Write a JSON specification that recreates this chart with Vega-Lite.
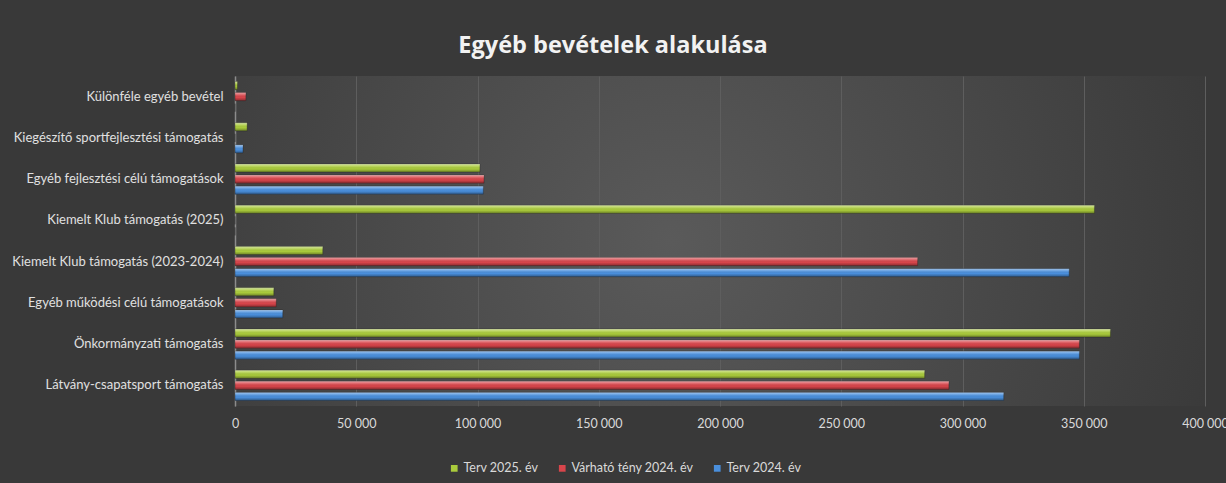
{
  "$schema": "https://vega.github.io/schema/vega-lite/v6.json",
  "width": 970,
  "height": 330,
  "autosize": {"type": "none"},
  "padding": {"left": 235, "top": 76, "right": 21, "bottom": 77},
  "background": "#393939",
  "title": {
    "text": "Egyéb bevételek alakulása",
    "font": "Open Sans",
    "fontSize": 23.5,
    "fontWeight": "bold",
    "color": "#f2f2f2",
    "anchor": "middle",
    "dx": -107,
    "offset": 19
  },
  "config": {
    "locale": {"number": {"decimal": ",", "thousands": " ", "grouping": [3], "currency": ["", ""]}},
    "view": {
      "stroke": null,
      "fill": {
        "gradient": "radial",
        "x1": 0.45, "y1": 0.5, "r1": 0,
        "x2": 0.45, "y2": 0.5, "r2": 0.6,
        "stops": [
          {"offset": 0, "color": "#5a5a5a"},
          {"offset": 1, "color": "#393939"}
        ]
      }
    },
    "font": "Lato"
  },
  "data": {
    "values": [
      {"kategoria": "Különféle egyéb bevétel", "sorozat": "Terv 2025. év", "ertek": 1000},
      {"kategoria": "Különféle egyéb bevétel", "sorozat": "Várható tény 2024. év", "ertek": 4500},
      {"kategoria": "Különféle egyéb bevétel", "sorozat": "Terv 2024. év", "ertek": 0},
      {"kategoria": "Kiegészítő sportfejlesztési támogatás", "sorozat": "Terv 2025. év", "ertek": 5000},
      {"kategoria": "Kiegészítő sportfejlesztési támogatás", "sorozat": "Várható tény 2024. év", "ertek": 0},
      {"kategoria": "Kiegészítő sportfejlesztési támogatás", "sorozat": "Terv 2024. év", "ertek": 3300},
      {"kategoria": "Egyéb fejlesztési célú támogatások", "sorozat": "Terv 2025. év", "ertek": 101000},
      {"kategoria": "Egyéb fejlesztési célú támogatások", "sorozat": "Várható tény 2024. év", "ertek": 102700},
      {"kategoria": "Egyéb fejlesztési célú támogatások", "sorozat": "Terv 2024. év", "ertek": 102400},
      {"kategoria": "Kiemelt Klub támogatás (2025)", "sorozat": "Terv 2025. év", "ertek": 354400},
      {"kategoria": "Kiemelt Klub támogatás (2025)", "sorozat": "Várható tény 2024. év", "ertek": 0},
      {"kategoria": "Kiemelt Klub támogatás (2025)", "sorozat": "Terv 2024. év", "ertek": 0},
      {"kategoria": "Kiemelt Klub támogatás (2023-2024)", "sorozat": "Terv 2025. év", "ertek": 36200},
      {"kategoria": "Kiemelt Klub támogatás (2023-2024)", "sorozat": "Várható tény 2024. év", "ertek": 281500},
      {"kategoria": "Kiemelt Klub támogatás (2023-2024)", "sorozat": "Terv 2024. év", "ertek": 344000},
      {"kategoria": "Egyéb működési célú támogatások", "sorozat": "Terv 2025. év", "ertek": 16000},
      {"kategoria": "Egyéb működési célú támogatások", "sorozat": "Várható tény 2024. év", "ertek": 17000},
      {"kategoria": "Egyéb működési célú támogatások", "sorozat": "Terv 2024. év", "ertek": 19700},
      {"kategoria": "Önkormányzati támogatás", "sorozat": "Terv 2025. év", "ertek": 361000},
      {"kategoria": "Önkormányzati támogatás", "sorozat": "Várható tény 2024. év", "ertek": 348200},
      {"kategoria": "Önkormányzati támogatás", "sorozat": "Terv 2024. év", "ertek": 348200},
      {"kategoria": "Látvány-csapatsport támogatás", "sorozat": "Terv 2025. év", "ertek": 284400},
      {"kategoria": "Látvány-csapatsport támogatás", "sorozat": "Várható tény 2024. év", "ertek": 294400},
      {"kategoria": "Látvány-csapatsport támogatás", "sorozat": "Terv 2024. év", "ertek": 317000}
    ]
  },
  "encoding": {
    "y": {
      "field": "kategoria",
      "type": "nominal",
      "sort": ["Különféle egyéb bevétel", "Kiegészítő sportfejlesztési támogatás", "Egyéb fejlesztési célú támogatások", "Kiemelt Klub támogatás (2025)", "Kiemelt Klub támogatás (2023-2024)", "Egyéb működési célú támogatások", "Önkormányzati támogatás", "Látvány-csapatsport támogatás"],
      "scale": {"paddingInner": 0.27, "paddingOuter": 0.135},
      "axis": {
        "title": null,
        "ticks": false,
        "domain": true,
        "domainColor": "#8c8c8c",
        "domainWidth": 1.5,
        "labelColor": "#e0e0e0",
        "labelFontSize": 13,
        "labelPadding": 12,
        "labelLimit": 300,
        "grid": false
      }
    },
    "yOffset": {
      "field": "sorozat",
      "type": "nominal",
      "sort": ["Terv 2025. év", "Várható tény 2024. év", "Terv 2024. év"],
      "scale": {"paddingInner": 0.27}
    },
    "x": {
      "field": "ertek",
      "type": "quantitative",
      "scale": {"domain": [0, 400000], "nice": false},
      "axis": {
        "title": null,
        "values": [0, 50000, 100000, 150000, 200000, 250000, 300000, 350000, 400000],
        "format": ",d",
        "domain": false,
        "ticks": false,
        "grid": true,
        "gridColor": "#5e5e5e",
        "gridWidth": 1,
        "labelColor": "#d9d9d9",
        "labelFontSize": 12.5,
        "labelPadding": 11,
        "labelFlush": false
      }
    }
  },
  "layer": [
    {
      "mark": {"type": "bar", "stroke": "#202020", "strokeWidth": 0.6, "strokeOpacity": 0.6},
      "encoding": {
        "color": {
          "field": "sorozat",
          "type": "nominal",
          "sort": ["Terv 2025. év", "Várható tény 2024. év", "Terv 2024. év"],
          "scale": {
            "domain": ["Terv 2025. év", "Várható tény 2024. év", "Terv 2024. év"],
            "range": ["#aacb3c", "#d8454b", "#4a8fdc"]
          },
          "legend": {
            "title": null,
            "orient": "none",
            "direction": "horizontal",
            "legendX": 213,
            "legendY": 386,
            "symbolType": "square",
            "symbolSize": 45,
            "symbolStrokeWidth": 0,
            "labelColor": "#d9d9d9",
            "labelFontSize": 12.5,
            "labelOffset": 3,
            "columnPadding": 17
          }
        }
      }
    },
    {
      "mark": {
        "type": "bar",
        "fill": {
          "gradient": "linear",
          "x1": 0, "y1": 0, "x2": 0, "y2": 1,
          "stops": [
            {"offset": 0, "color": "rgba(255,255,255,0.5)"},
            {"offset": 0.3, "color": "rgba(255,255,255,0.15)"},
            {"offset": 0.6, "color": "rgba(0,0,0,0)"},
            {"offset": 1, "color": "rgba(0,0,0,0.35)"}
          ]
        },
        "tooltip": false
      },
      "encoding": {}
    }
  ]
}
